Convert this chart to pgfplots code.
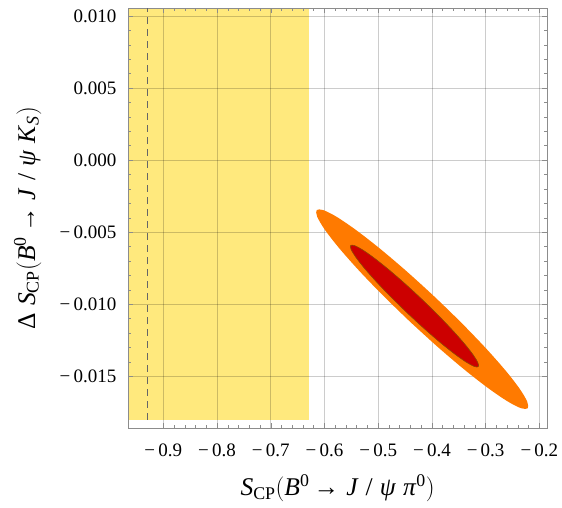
\documentclass[border=0pt]{standalone}
\usepackage{fontspec}
\setmainfont{Liberation Serif}
\usepackage{pgfplots}
\pgfplotsset{compat=1.18}
\definecolor{ylw}{RGB}{255,233,125}
\definecolor{orng}{RGB}{255,122,0}
\definecolor{rd}{RGB}{204,0,0}
\definecolor{rdedge}{RGB}{140,75,0}
\definecolor{framec}{RGB}{140,140,140}
\begin{document}
\begin{tikzpicture}
\begin{axis}[
  set layers,
  at={(0,0)}, anchor=south west,
  scale only axis, width=418.7pt, height=419.7pt,
  xmin=-0.96514, xmax=-0.18587,
  ymin=-0.018585, ymax=0.010534,
  scaled ticks=false,
  xtick={-0.9,-0.8,-0.7,-0.6,-0.5,-0.4,-0.3,-0.2},
  xticklabels={−\,0.9,−\,0.8,−\,0.7,−\,0.6,−\,0.5,−\,0.4,−\,0.3,−\,0.2},
  ytick={-0.015,-0.010,-0.005,0,0.005,0.010},
  yticklabels={−\,0.015,−\,0.010,−\,0.005,0.000,0.005,0.010},
  minor x tick num=4, minor y tick num=4,
  tick align=inside,
  major tick length=5pt, minor tick length=3pt,
  tick style={draw=framec, line width=0.5pt},
  axis line style={draw=framec, line width=0.6pt},
  grid=major,
  major grid style={draw=black, draw opacity=0.2, line width=0.6pt},
  ticklabel style={font=\fontsize{19}{19}\selectfont},
  xticklabel shift=12pt,
  yticklabel shift=8.5pt,
  xlabel={\textit{S}\textsubscript{CP}$\bigl($\textit{B}\textsuperscript{0}\,→\;\textit{J}\;/\;\textit{ψ}\;\textit{π}\textsuperscript{0}$\bigr)$},
  ylabel={Δ\;\textit{S}\textsubscript{CP}$\bigl($\textit{B}\textsuperscript{0}\,→\;\textit{J}\;/\;\textit{ψ}\;\textit{K}\textsubscript{\textit{S}}$\bigr)$},
  label style={font=\fontsize{25.5}{25.5}\selectfont},
  xlabel style={at={(axis description cs:0.5,-0.1604)}, anchor=base},
  ylabel style={at={(axis description cs:-0.2228,0.5)}, anchor=base},
]
% yellow band
\addplot[on layer=axis background, fill=ylw, draw=none]
  coordinates {(-0.96514,-0.0180) (-0.629,-0.0180) (-0.629,0.010534) (-0.96514,0.010534)};
% dashed vertical line
\addplot[draw=black!60, line width=0.6pt, dash pattern=on 7pt off 5pt]
  coordinates {(-0.929,-0.0180) (-0.929,0.010534)};
% outer (orange) contour
\addplot[fill=orng, draw=none, smooth] coordinates {
(-0.44044,-0.011224) (-0.49050,-0.009414) (-0.53563,-0.007668) (-0.57275,-0.006103)
(-0.59934,-0.004827) (-0.61357,-0.003927) (-0.61449,-0.003464) (-0.60203,-0.003469)
(-0.57704,-0.003943) (-0.54121,-0.004853) (-0.49700,-0.006136) (-0.44742,-0.007706)
(-0.39584,-0.009456) (-0.34578,-0.011266) (-0.30066,-0.013012) (-0.26353,-0.014577)
(-0.23694,-0.015853) (-0.22271,-0.016753) (-0.22179,-0.017216) (-0.23425,-0.017211)
(-0.25924,-0.016737) (-0.29507,-0.015827) (-0.33928,-0.014544) (-0.38886,-0.012974)
(-0.44044,-0.011224)};
% inner (red) contour
\addplot[fill=rd, draw=rdedge, line width=0.6pt, smooth] coordinates {
(-0.44530,-0.010628) (-0.47560,-0.009523) (-0.50296,-0.008459) (-0.52551,-0.007508)
(-0.54172,-0.006735) (-0.55049,-0.006193) (-0.55122,-0.005920) (-0.54385,-0.005933)
(-0.52890,-0.006231) (-0.50737,-0.006796) (-0.48075,-0.007587) (-0.45082,-0.008551)
(-0.41966,-0.009622) (-0.38936,-0.010727) (-0.36201,-0.011792) (-0.33945,-0.012742)
(-0.32324,-0.013515) (-0.31447,-0.014057) (-0.31374,-0.014330) (-0.32111,-0.014317)
(-0.33606,-0.014019) (-0.35759,-0.013454) (-0.38422,-0.012664) (-0.41414,-0.011699)
(-0.44530,-0.010628)};
\end{axis}
\path (-128.3pt,-79.3pt) (433.7pt,428pt);
\end{tikzpicture}
\end{document}
